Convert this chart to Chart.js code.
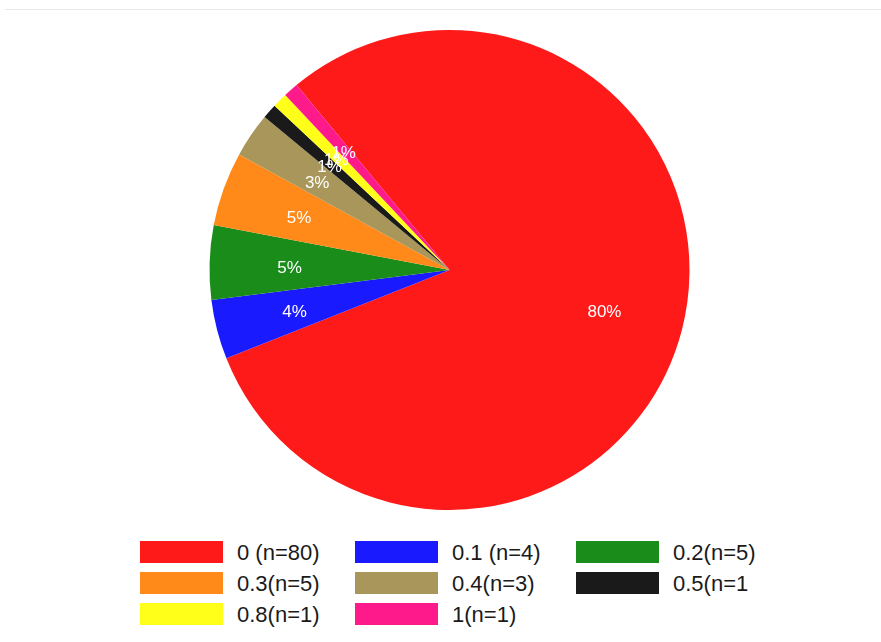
<!DOCTYPE html>
<html>
<head>
<meta charset="utf-8">
<script src="https://cdn.jsdelivr.net/npm/chart.js@4/dist/chart.umd.min.js"></script>
<style>
  body { margin: 0; background: #fff; font-family: "Liberation Sans", Arial, sans-serif; }
  #wrap { position: relative; width: 881px; height: 642px; overflow: hidden; }
  #rule { position: absolute; top: 9px; left: 5px; right: 0; height: 1px; background: #e8e8e8; }
  #pie { position: absolute; top: 0; left: 0; }
  #legend { position: absolute; top: 541px; left: 140px; }
  .item { position: absolute; height: 22px; display: flex; align-items: center; white-space: nowrap; }
  .box { width: 83px; height: 22px; margin-right: 14px; flex: none; }
  .txt { font-size: 22px; color: #1a1a1a; line-height: 22px; position: relative; top: 1px; }
</style>
</head>
<body>
<div id="wrap">
  <div id="rule"></div>
  <canvas id="pie" width="881" height="540"></canvas>
  <div id="legend"></div>
</div>
<script>
const categories = ["0 (n=80)", "0.1 (n=4)", "0.2(n=5)", "0.3(n=5)", "0.4(n=3)", "0.5(n=1", "0.8(n=1)", "1(n=1)"];
const counts = [80, 4, 5, 5, 3, 1, 1, 1];
const colors = ["#ff1a1a", "#1a1aff", "#1a8c1a", "#ff8a1a", "#a8965a", "#1a1a1a", "#ffff1a", "#ff1a8c"];

const total = counts.reduce((a, b) => a + b, 0);

// percentage text inside each slice, two thirds of the way out
const sliceLabels = {
    id: "sliceLabels",
    afterDatasetsDraw(chart) {
        const ctx = chart.ctx;
        const arcs = chart.getDatasetMeta(0).data;
        ctx.save();
        ctx.font = "17px 'Liberation Sans', Arial, sans-serif";
        ctx.fillStyle = "#ffffff";
        ctx.textAlign = "center";
        ctx.textBaseline = "middle";
        arcs.forEach((arc, i) => {
            const p = arc.getProps(["x", "y", "startAngle", "endAngle", "outerRadius"], true);
            const mid = (p.startAngle + p.endAngle) / 2;
            const r = p.outerRadius * 2 / 3;
            const pct = Math.round(counts[i] / total * 100) + "%";
            ctx.fillText(pct, p.x + Math.cos(mid) * r, p.y + Math.sin(mid) * r + 3);
        });
        ctx.restore();
    }
};

new Chart(document.getElementById("pie"), {
    type: "pie",
    data: {
        labels: categories,
        datasets: [{
            data: counts,
            backgroundColor: colors,
            borderWidth: 0
        }]
    },
    options: {
        responsive: false,
        animation: false,
        rotation: -39.6,
        layout: {
            padding: { top: 30, bottom: 30, left: 209.5, right: 191.5 }
        },
        plugins: {
            legend: { display: false },
            tooltip: { enabled: false }
        }
    },
    plugins: [sliceLabels]
});

// three-column legend grid
const legend = document.getElementById("legend");
const colX = [0, 215, 436];
categories.forEach((name, i) => {
    const div = document.createElement("div");
    div.classList.add("item");
    div.style.left = colX[i % 3] + "px";
    div.style.top = Math.floor(i / 3) * 31 + "px";
    div.innerHTML = `<span class="box" style="background:${colors[i]}"></span><span class="txt">${name}</span>`;
    legend.appendChild(div);
});
</script>
</body>
</html>
